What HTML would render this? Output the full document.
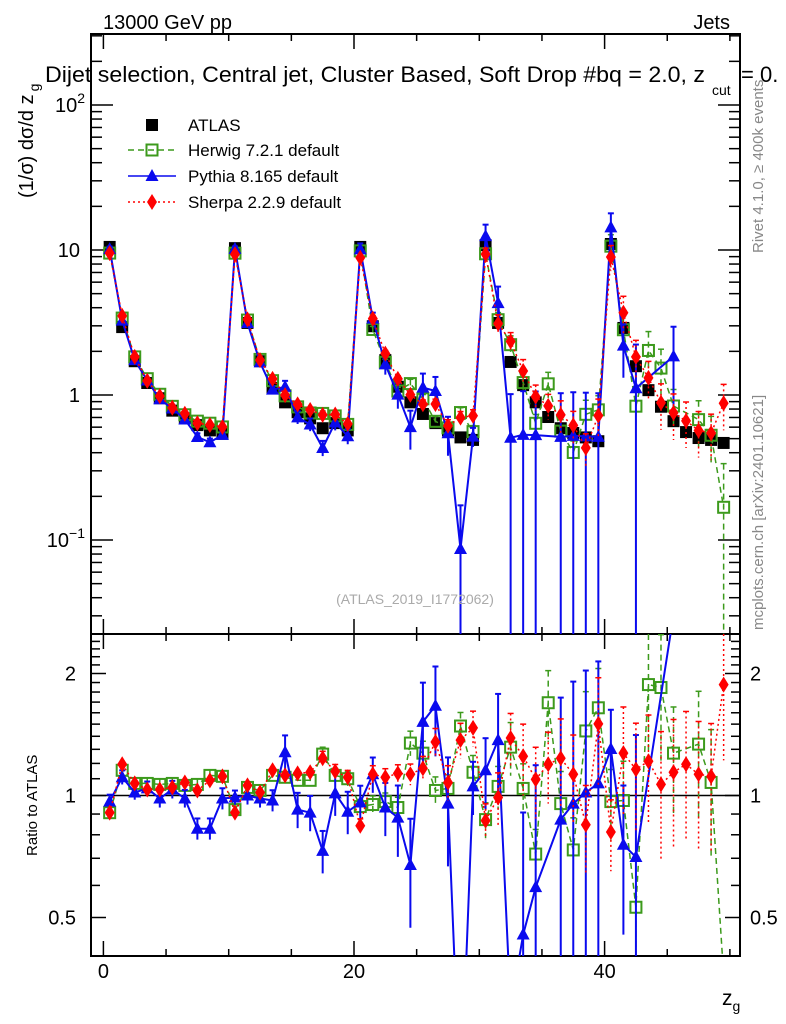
<!DOCTYPE html>
<html><head><meta charset="utf-8"><style>
html,body{margin:0;padding:0;background:#fff;width:786px;height:1024px;overflow:hidden;}
svg{display:block;font-family:"Liberation Sans",sans-serif;}
</style></head><body>
<svg id="chart" width="786" height="1024" viewBox="0 0 786 1024" xmlns="http://www.w3.org/2000/svg">
<defs>
<clipPath id="clipTop"><rect x="91" y="34" width="649" height="600"/></clipPath>
<clipPath id="clipBot"><rect x="91" y="634" width="649" height="322"/></clipPath>
</defs>
<rect x="0" y="0" width="786" height="1024" fill="#fff"/>
<text x="103" y="29" font-size="20">13000 GeV pp</text>
<text x="730" y="29" font-size="20" text-anchor="end">Jets</text>
<g id="axes"></g>
<g id="topData" clip-path="url(#clipTop)"></g>
<g id="botData" clip-path="url(#clipBot)"></g>
<text x="45" y="82" font-size="22" textLength="660" lengthAdjust="spacingAndGlyphs">Dijet selection, Central jet, Cluster Based, Soft Drop #bq = 2.0, z</text>
<text x="712" y="95" font-size="14">cut</text>
<text x="741" y="82" font-size="22">= 0.</text>
<text transform="translate(763,253) rotate(-90)" font-size="15" fill="#888">Rivet 4.1.0, ≥ 400k events</text>
<text transform="translate(763,630) rotate(-90)" font-size="15" fill="#888">mcplots.cern.ch [arXiv:2401.10621]</text>
<text x="415" y="604" font-size="14" fill="#aaa" text-anchor="middle">(ATLAS_2019_I1772062)</text>
<text transform="translate(33,198) rotate(-90)" font-size="20">(1/σ) dσ/d z<tspan font-size="14" dy="6" dx="3">g</tspan></text>
<text transform="translate(37,856) rotate(-90)" font-size="15">Ratio to ATLAS</text>
<text x="722" y="1005" font-size="21">z<tspan font-size="14" dy="6">g</tspan></text>
<g id="legend"></g>
</svg>
<script>
const bins = [];
for (let i = 0; i < 50; i++) bins.push(i + 0.5);
const atlasValues = [10.5,2.94,1.71,1.21,0.95,0.78,0.69,0.62,0.57,0.54,
 10.3,3.14,1.71,1.12,0.89,0.76,0.69,0.59,0.64,0.57,
 10.5,2.98,1.74,1.14,0.89,0.74,0.64,0.57,0.51,0.49,
 10.8,3.14,1.69,1.17,0.89,0.705,0.59,0.547,0.51,0.48,
 11.0,2.90,1.58,1.08,0.83,0.66,0.555,0.505,0.49,0.467];
const herwigRatio = [0.907,1.154,1.071,1.071,1.065,1.071,1.059,1.065,1.121,1.115,
 0.923,1.047,1.029,1.121,1.109,1.090,1.090,1.265,1.121,1.10,
 0.939,0.950,0.966,0.934,1.347,1.272,1.029,1.041,1.484,1.141,
 0.872,1.053,1.316,1.041,0.717,1.694,0.955,0.734,1.443,1.646,
 0.966,0.972,0.530,1.878,1.847,1.272,null,1.339,1.077,0.36];
const pythiaRatio = [0.966,1.109,1.017,1.041,0.983,1.035,0.983,0.828,0.828,0.983,
 0.989,1.0,0.983,0.972,1.279,0.923,0.907,0.730,1.012,0.912,
 0.961,1.128,0.934,0.882,0.674,1.519,1.665,0.955,0.17,1.053,
 1.154,1.37,0.30,0.454,0.594,null,0.872,0.955,1.017,1.071,
 1.302,0.756,0.705,null,null,2.8,null,null,null,null];
const sherpaRatio = [0.907,1.194,1.071,1.035,1.035,1.047,1.077,1.029,1.090,1.115,
 0.907,1.059,1.017,1.154,1.121,1.134,1.141,1.236,1.147,1.109,
 0.842,1.128,1.109,1.134,1.128,1.167,1.355,1.077,1.37,1.468,
 0.867,0.989,1.386,1.250,1.096,1.194,1.236,1.128,0.847,1.502,
 0.813,1.272,1.160,1.215,1.065,1.141,1.194,1.128,1.115,1.878];
const herwigErr = [0.03,0.03,0.03,0.03,0.03,0.03,0.03,0.03,0.03,0.03,
 0.03,0.03,0.03,0.03,0.03,0.03,0.03,0.04,0.04,0.04,
 0.04,0.05,0.05,0.06,0.07,0.07,0.08,0.08,0.08,0.1,
 0.1,0.12,0.15,0.15,0.15,0.2,0.2,0.2,0.25,0.25,
 0.2,0.25,0.3,0.35,0.35,0.3,0,0.35,0.35,1.0];
const pythiaErr = [0.04,0.04,0.04,0.04,0.05,0.05,0.05,0.06,0.06,0.06,
 0.04,0.05,0.05,0.06,0.1,0.1,0.1,0.12,0.12,0.12,
 0.1,0.1,0.15,0.2,0.3,0.25,0.25,0.3,1.0,0.15,
 0.2,0.3,1.0,1.0,1.0,0,1.0,1.0,1.0,1.0,
 0.25,0.4,1.0,0,0,0.6,0,0,0,0];
const sherpaErr = [0.03,0.03,0.03,0.03,0.03,0.03,0.03,0.03,0.03,0.03,
 0.03,0.03,0.03,0.03,0.03,0.03,0.03,0.04,0.04,0.04,
 0.04,0.05,0.05,0.05,0.06,0.07,0.08,0.1,0.1,0.1,
 0.1,0.15,0.15,0.2,0.2,0.2,0.25,0.25,0.25,0.3,
 0.2,0.3,0.3,0.3,0.35,0.35,0.35,0.35,0.35,0.35];
const xTicksMajor = [0,20,40];
const xTickLabels = ["0","20","40"];
const ratioLabels = [0.5,1,2];

const NS = "http://www.w3.org/2000/svg";
function X(v){ return 103.4 + 12.53*v; }
function YT(v){ return 395 - 145*Math.log10(v); }
function YR(r){ return 795.5 - 122*Math.log2(r); }
function mk(tag, attrs, parent){
  const e = document.createElementNS(NS, tag);
  for (const k in attrs) e.setAttribute(k, attrs[k]);
  parent.appendChild(e); return e;
}
const axes = document.getElementById('axes');
const topG = document.getElementById('topData');
const botG = document.getElementById('botData');

let f1 = mk('rect',{x:91,y:34,width:649,height:600,fill:'none',stroke:'#000','stroke-width':2},axes);


let f2 = mk('rect',{x:91,y:634,width:649,height:322,fill:'none',stroke:'#000','stroke-width':2},axes);



for (let v = 0; v <= 50; v += 5){
  const x = X(v);
  const L = (v % 20 === 0) ? 15 : 7;
  [[34,1],[634,-1],[634,1],[956,-1]].forEach(([y,d])=>{
    const t = mk('line',{x1:x,x2:x,y1:y,y2:y+d*L,stroke:'#000','stroke-width':1.5},axes);
    
    
  });
}
xTicksMajor.forEach((v,i)=>{
  const t = mk('text',{x:X(v),y:978,'font-size':20,'text-anchor':'middle'},axes);
  
  
  t.textContent = xTickLabels[i];
});
for (let e = -2; e <= 2; e++){
  for (let m = 1; m <= 9; m++){
    const v = m*Math.pow(10,e);
    const y = YT(v);
    if (y < 34 || y > 634) continue;
    const L = m===1 ? 22 : 11;
    const a = mk('line',{x1:91,x2:91+L,y1:y,y2:y,stroke:'#000','stroke-width':1.5},axes);
    
    
    const b = mk('line',{x1:740,x2:740-L,y1:y,y2:y,stroke:'#000','stroke-width':1.5},axes);
    
    
  }
}
function ylab(x,y,main,sup){
  const t = mk('text',{x:x,y:y,'font-size':20,'text-anchor':'end'},axes);
  
  
  t.textContent = main;
  if (sup){ const s = mk('tspan',{'font-size':14,dy:-9},t); s.textContent = sup; }
}
ylab(85,YT(100)+7,'10','2');
ylab(80,YT(10)+7,'10','');
ylab(80,YT(1)+7,'1','');
ylab(85,YT(0.1)+7,'10','−1');
for (let r = 0.4; r <= 2.51; r += 0.1){
  const y = YR(r);
  if (y < 634 || y > 956) continue;
  const maj = [0.5,1,2].some(m=>Math.abs(m-r)<1e-6);
  const L = maj ? 15 : 9;
  const a = mk('line',{x1:91,x2:91+L,y1:y,y2:y,stroke:'#000','stroke-width':1.5},axes);
  
  
  const b = mk('line',{x1:740,x2:740-L,y1:y,y2:y,stroke:'#000','stroke-width':1.5},axes);
  
  
}
ratioLabels.forEach(r=>{
  const t = mk('text',{x:76,y:YR(r)+7,'font-size':20,'text-anchor':'end'},axes);
  
  
  t.textContent = String(r);
  const t2 = mk('text',{x:750,y:YR(r)+7,'font-size':20},axes);
  
  
  t2.textContent = String(r);
});
const one = mk('line',{x1:91,x2:740,y1:YR(1),y2:YR(1),stroke:'#000','stroke-width':1.5},botG);



function marker(g, type, x, y, color){
  let e;
  if (type==='sq') e = mk('rect',{x:x-6,y:y-6,width:12,height:12,fill:'#000'},g);
  else if (type==='osq') e = mk('rect',{x:x-5.5,y:y-5.5,width:11,height:11,fill:'none',stroke:color,'stroke-width':2},g);
  else if (type==='tri') e = mk('polygon',{points:`${x},${y-7} ${x-6.5},${y+5} ${x+6.5},${y+5}`,fill:color},g);
  else e = mk('polygon',{points:`${x},${y-8} ${x-5},${y} ${x},${y+8} ${x+5},${y}`,fill:color},g);
  return e;
}
// clip a polyline to y range [lo, hi], returning path data
function clipPath(pts, lo, hi){
  let d = '';
  let pen = false;
  const inR = p => p[1] >= lo && p[1] <= hi;
  const cross = (a,b,yb) => [a[0] + (b[0]-a[0])*(yb-a[1])/(b[1]-a[1]), yb];
  for (let i = 0; i < pts.length-1; i++){
    let a = pts[i], b = pts[i+1];
    if ((a[1] < lo && b[1] < lo) || (a[1] > hi && b[1] > hi)) { pen = false; continue; }
    if (a[1] < lo) a = cross(a,b,lo); else if (a[1] > hi) a = cross(a,b,hi);
    if (b[1] < lo) b = cross(pts[i],b,lo); else if (b[1] > hi) b = cross(pts[i],b,hi);
    if (!pen || !inR(pts[i])) d += `M${a[0].toFixed(1)},${a[1].toFixed(1)}`;
    d += `L${b[0].toFixed(1)},${b[1].toFixed(1)}`;
    pen = inR(pts[i+1]);
  }
  return d;
}

const series = [
  {name:'herwig', ratio:herwigRatio, err:herwigErr, color:'#3c9a1c', dash:'6,4', m:'osq', w:1.5},
  {name:'pythia', ratio:pythiaRatio, err:pythiaErr, color:'#0a0aee', dash:'', m:'tri', w:2},
  {name:'sherpa', ratio:sherpaRatio, err:sherpaErr, color:'#ff0000', dash:'2,3', m:'dia', w:1.5}
];
series.forEach(s=>{
  [[topG,'top'],[botG,'ratio']].forEach(([g,panel])=>{
    const pts = [];
    const sg = mk('g',{},g);
    
    
    const Y = panel==='top' ? YT : YR;
    const top = panel==='top' ? 34 : 634;
    const bottom = panel==='top' ? 634 : 956;
    bins.forEach((b,i)=>{
      const r = s.ratio[i];
      if (r === null) return;
      const val = panel==='top' ? r*atlasValues[i] : r;
      const x = X(b), y = Y(val);
      pts.push([x,y]);
      if (y < top-10 || y > bottom+10) return;
      const e = s.err[i];
      const hi = Math.max(top, Y(val*(1+e)));
      const lo = e >= 1 ? bottom : Math.min(bottom, Y(val*(1-e)));
      const eb = mk('line',{x1:x,x2:x,y1:hi,y2:lo,stroke:s.color,'stroke-width':s.w,'stroke-dasharray':s.dash},sg);
      
      
      if (e > 0.03 && hi > top){
        const c = mk('line',{x1:x-3,x2:x+3,y1:hi,y2:hi,stroke:s.color,'stroke-width':s.w},sg);
        
        
      }
    });
    const pl = mk('path',{d:clipPath(pts, top, bottom),fill:'none',stroke:s.color,'stroke-width':s.w,'stroke-dasharray':s.dash},sg);
    
    
    pts.forEach(p=>{
      if (p[1] < top || p[1] > bottom) return;
      const mm = marker(sg, s.m, p[0], p[1], s.color);
      
      
    });
  });
});
const ag = document.createElementNS(NS,'g');
topG.insertBefore(ag, topG.firstChild);


bins.forEach((b,i)=>{
  const mm = marker(ag,'sq',X(b),YT(atlasValues[i]),'#000');
  
  
});

const lg = document.getElementById('legend');
const entries = [
  {label:'ATLAS', m:'sq', color:'#000', dash:null, y:125},
  {label:'Herwig 7.2.1 default', m:'osq', color:'#3c9a1c', dash:'6,4', y:150},
  {label:'Pythia 8.165 default', m:'tri', color:'#0a0aee', dash:'', y:176},
  {label:'Sherpa 2.2.9 default', m:'dia', color:'#ff0000', dash:'2,3', y:202}
];
entries.forEach(en=>{
  const g = mk('g',{},lg);
  
  
  if (en.dash !== null){
    mk('line',{x1:128,x2:176,y1:en.y,y2:en.y,stroke:en.color,'stroke-width':1.5,'stroke-dasharray':en.dash},g);
  }
  marker(g,en.m,152,en.y,en.color);
  const t = mk('text',{x:188,y:en.y+6,'font-size':17},g);
  t.textContent = en.label;
});
</script>
</body></html>
